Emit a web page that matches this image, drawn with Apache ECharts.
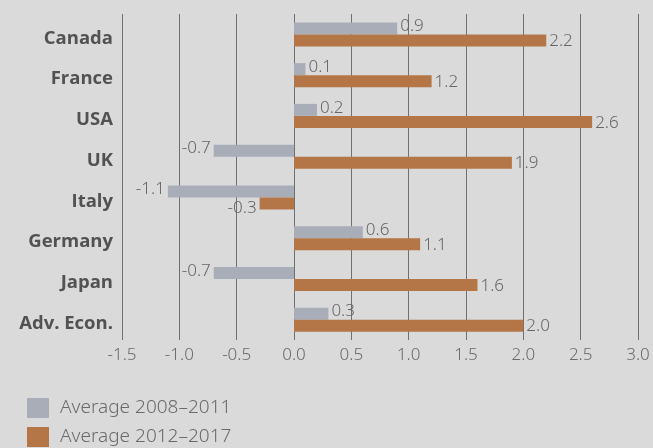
<!DOCTYPE html>
<html>
<head>
<meta charset="utf-8">
<script src="https://cdn.jsdelivr.net/npm/echarts@6/dist/echarts.min.js"></script>
<style>
html,body{margin:0;padding:0;background:#dadada;}
#chart{width:653px;height:448px;}
</style>
</head>
<body>
<div id="chart"></div>
<script>
const categories = ['Canada','France','USA','UK','Italy','Germany','Japan','Adv. Econ.'];
const avg2008_2011 = [0.9, 0.1, 0.2, -0.7, -1.1, 0.6, -0.7, 0.3];
const avg2012_2017 = [2.2, 1.2, 2.6, 1.9, -0.3, 1.1, 1.6, 2.0];
const seriesNames = ['Average 2008–2011', 'Average 2012–2017'];
const xTicks = { min: -1.5, max: 3.0, interval: 0.5 };

function items(vals, dy) {
  return vals.map(v => ({
    value: v,
    label: { position: v < 0 ? 'left' : 'right', offset: [0, v < 0 && dy > 0 ? 5 : dy] }
  }));
}

const numFont = 'Noto Sans';
const chart = echarts.init(document.getElementById('chart'), null, {renderer: 'canvas'});
const labelStyle = { show: true, color: '#666', fontSize: 17, fontFamily: numFont, fontWeight: 300, distance: 3,
  formatter: p => p.value.toFixed(1) };
chart.setOption({
  backgroundColor: '#dadada',
  animation: false,
  grid: { left: 122, right: 15, top: 14, bottom: 108 },
  xAxis: {
    type: 'value', min: xTicks.min, max: xTicks.max, interval: xTicks.interval,
    axisLine: { show: false }, axisTick: { show: false },
    splitLine: { show: true, lineStyle: { color: '#707070', width: 1 } },
    axisLabel: { color: '#6a6a6a', fontSize: 17, fontFamily: numFont, fontWeight: 300, margin: 7,
      formatter: v => v.toFixed(1) }
  },
  yAxis: {
    type: 'category', data: categories, inverse: true,
    axisLine: { show: false }, axisTick: { show: false }, splitLine: { show: false },
    axisLabel: { margin: 9, formatter: v => '{c|' + v + '}',
      rich: { c: { color: '#525252', fontSize: 18.5, fontWeight: 'bold', fontFamily: 'Open Sans',
        padding: [8, 0, 0, 0] } } }
  },
  legend: {
    orient: 'vertical', left: 27, top: 398, padding: 0, itemWidth: 22, itemHeight: 20, itemGap: 9,
    icon: 'rect',
    textStyle: { color: '#6a6a6a', fontSize: 19, fontFamily: numFont, fontWeight: 300, padding: [0,0,0,6] },
    data: seriesNames
  },
  series: [
    { name: seriesNames[0], type: 'bar', data: items(avg2008_2011, -2), barWidth: 12, barGap: '0%',
      itemStyle: { color: '#a9adb8' }, label: labelStyle },
    { name: seriesNames[1], type: 'bar', data: items(avg2012_2017, 1), barWidth: 12, barGap: '0%',
      itemStyle: { color: '#b47646' }, label: labelStyle }
  ]
});
</script>
</body>
</html>
